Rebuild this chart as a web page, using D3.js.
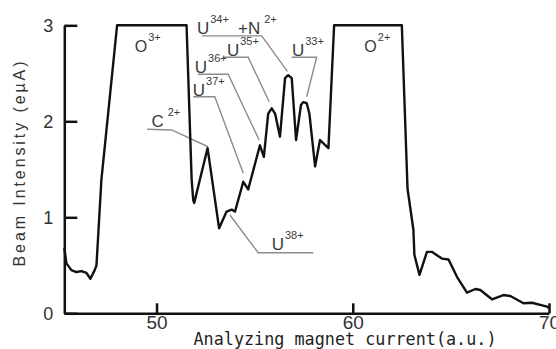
<!DOCTYPE html>
<html>
<head>
<meta charset="utf-8">
<script src="https://cdn.jsdelivr.net/npm/d3@7"></script>
<style>
  html, body { margin: 0; padding: 0; background: #fff; }
  svg { display: block; }
</style>
</head>
<body>
<div id="chart"></div>
<script>
// Beam intensity (magnet current in a.u., intensity in eµA)
const current = [
    45.3, 45.41, 45.66, 45.92, 46.17, 46.43, 46.63, 46.85, 46.94, 47.19, 47.99,
    51.53, 51.79, 51.87, 51.92, 52.60, 53.19, 53.57, 53.83, 54.0, 54.42, 54.67,
    55.27, 55.47, 55.69, 55.87, 56.04, 56.29, 56.55, 56.71, 56.89, 57.11,
    57.36, 57.48, 57.65, 57.79, 58.08, 58.33, 58.76, 59.05, 62.5,
    62.79, 63.09, 63.14, 63.40, 63.78, 64.03, 64.54, 64.88, 65.31, 65.82,
    66.25, 66.5, 67.09, 67.68, 68.03, 68.70, 69.13, 69.9, 70.0
];
const intensity = [
    0.68, 0.52, 0.45, 0.43, 0.44, 0.42, 0.36, 0.45, 0.50, 1.39, 3.0,
    3.0, 1.39, 1.18, 1.15, 1.72, 0.885, 1.06, 1.08, 1.06, 1.37, 1.29,
    1.75, 1.63, 2.08, 2.135, 2.08, 1.84, 2.45, 2.48, 2.45, 1.805,
    2.17, 2.20, 2.19, 2.08, 1.53, 1.805, 1.72, 3.0, 3.0,
    1.3, 0.87, 0.61, 0.40, 0.64, 0.64, 0.57, 0.56, 0.38, 0.215,
    0.253, 0.243, 0.146, 0.19, 0.18, 0.104, 0.11, 0.07, 0.055
];

const xTicks = [50, 60, 70];
const yTicks = [0, 1, 2, 3];

// ion labels: main text, superscript, anchor (data units)
const ionNames = ["O", "O", "U", "+N", "U", "U", "U", "U", "C", "U"];
const ionCharges = ["3+", "2+", "34+", "2+", "35+", "36+", "37+", "33+", "2+", "38+"];
const ionAt = [
    [48.89, 2.725], [60.59, 2.725], [52.06, 2.91], [54.15, 2.91], [53.59, 2.68],
    [51.95, 2.50], [51.85, 2.26], [56.90, 2.68], [49.74, 1.944], [55.87, 0.66]
];
// leader lines (data units)
const leaders = [
    [[52.30, 2.89], [55.36, 2.89], [56.67, 2.52]],
    [[53.40, 2.667], [54.67, 2.667], [55.74, 2.204]],
    [[52.12, 2.49], [53.65, 2.49], [55.23, 1.805]],
    [[51.87, 2.256], [52.97, 2.256], [54.42, 1.458]],
    [[56.89, 2.667], [58.16, 2.667], [57.65, 2.256]],
    [[49.52, 1.917], [50.77, 1.91], [52.63, 1.735]],
    [[53.74, 1.024], [55.18, 0.631], [57.99, 0.631]]
];

const W = 556, H = 349;
const sans = '"Liberation Sans", Arial, sans-serif';

const svg = d3.select("#chart").append("svg")
    .attr("width", W)
    .attr("height", H);

svg.append("rect").attr("width", W).attr("height", H).attr("fill", "#fff");

const x = d3.scaleLinear().domain([45.3, 70]).range([64.3, 549]);
const y = d3.scaleLinear().domain([0, 3]).range([313.3, 25.3]);

// leader lines first so the trace sits on top
const leaderLine = d3.line().x(d => x(d[0])).y(d => y(d[1]));
svg.append("g")
    .selectAll("path")
    .data(leaders)
    .join("path")
    .attr("d", leaderLine)
    .attr("fill", "none")
    .attr("stroke", "#8c8c8c")
    .attr("stroke-width", 1.4);

// trace
const points = current.map((c, i) => [c, intensity[i]]);
svg.append("path")
    .datum(points)
    .attr("d", d3.line().x(d => x(d[0])).y(d => y(d[1])))
    .attr("fill", "none")
    .attr("stroke", "#111")
    .attr("stroke-width", 2.4)
    .attr("stroke-linejoin", "round");

// axes
const gy = svg.append("g")
    .attr("transform", `translate(${x(45.3)},0)`)
    .call(d3.axisLeft(y).tickValues(yTicks).tickFormat(d3.format("d"))
        .tickSizeInner(-13).tickSizeOuter(0).tickPadding(11));

const gx = svg.append("g")
    .attr("transform", `translate(0,${y(0)})`)
    .call(d3.axisBottom(x).tickValues(xTicks).tickFormat(d3.format("d"))
        .tickSizeInner(-10).tickSizeOuter(0).tickPadding(2));

svg.selectAll(".domain, .tick line")
    .attr("stroke", "#111")
    .attr("stroke-width", 2.5);

gy.selectAll("text")
    .style("font-family", sans)
    .style("font-size", "18px")
    .attr("fill", "#333");

gx.selectAll("text")
    .style("font-family", sans)
    .style("font-size", "19px")
    .attr("fill", "#333");

// ion labels
const labels = svg.append("g")
    .selectAll("text")
    .data(ionNames.map((n, i) => ({ name: n, charge: ionCharges[i], at: ionAt[i] })))
    .join("text")
    .attr("x", d => x(d.at[0]))
    .attr("y", d => y(d.at[1]))
    .style("font-family", sans)
    .attr("fill", "#3a3a3a");

labels.append("tspan")
    .style("font-size", d => d.name === "O" ? "16px" : "17px")
    .text(d => d.name);

labels.append("tspan")
    .attr("dx", d => (d.name === "C" || d.name === "+N") ? 4 : 1)
    .attr("dy", -11)
    .style("font-size", "11px")
    .text(d => d.charge);

// axis titles
svg.append("text")
    .attr("x", 345)
    .attr("y", 344.5)
    .attr("text-anchor", "middle")
    .attr("textLength", 303)
    .attr("lengthAdjust", "spacingAndGlyphs")
    .style("font-family", '"DejaVu Sans Mono", monospace')
    .style("font-size", "18px")
    .attr("fill", "#222")
    .text("Analyzing magnet current(a.u.)");

svg.append("text")
    .attr("transform", "translate(25,164) rotate(-90)")
    .attr("text-anchor", "middle")
    .attr("textLength", 205)
    .attr("lengthAdjust", "spacing")
    .style("font-family", sans)
    .style("font-size", "16px")
    .attr("fill", "#333")
    .text("Beam Intensity (eµA)");
</script>
</body>
</html>
